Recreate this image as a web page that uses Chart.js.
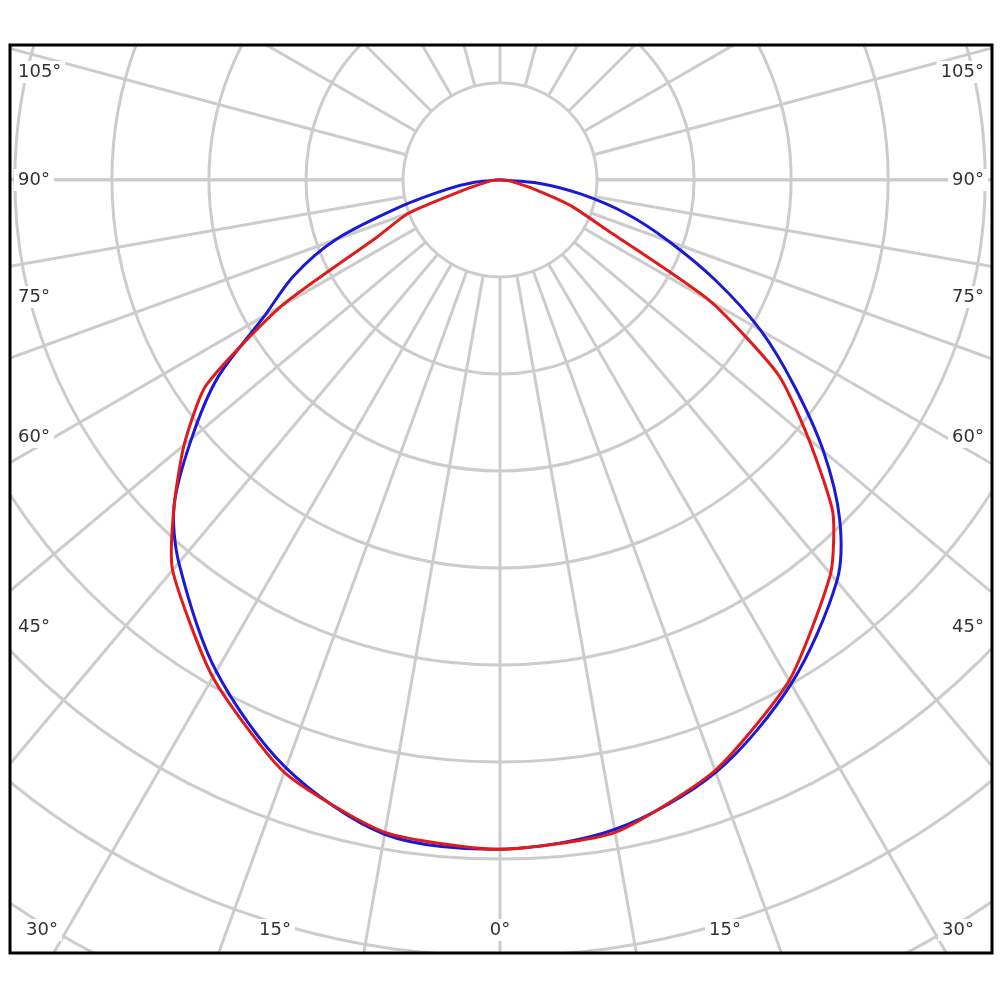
<!DOCTYPE html>
<html>
<head>
<meta charset="utf-8">
<script src="https://cdn.jsdelivr.net/npm/chart.js@4"></script>
<style>
  html, body { margin: 0; padding: 0; background: #fff; }
  #wrap { width: 1000px; height: 1000px; }
</style>
</head>
<body>
<div id="wrap"><canvas id="polar"></canvas></div>
<script>
// angle from nadir (deg), negative = left half
const angles = [-90,-85,-80,-75,-70,-65,-60,-55,-50,-45,-40,-30,-20,-10,0,10,20,30,40,45,50,55,60,65,70,75,80,85,90];
// intensity in ring units
const redValues  = [0,0.08,0.15,0.35,1.0,1.4,2.6,3.7,4.25,4.75,5.25,5.92,6.5,6.83,6.9,6.83,6.48,5.96,5.3,4.85,4.15,3.5,2.5,1.2,0.77,0.35,0.15,0.08,0];
const blueValues = [0,0.25,0.55,1.05,1.8,2.35,2.8,3.55,4.15,4.75,5.15,5.85,6.45,6.85,6.9,6.8,6.5,6.0,5.4,4.95,4.35,3.7,3.1,2.45,1.85,1.35,0.85,0.4,0];
const sideLabels = ['105°','90°','75°','60°','45°'];
const sideLabelY = [72,180,297,437,627];
const bottomLabels = ['30°','15°','0°','15°','30°'];
const bottomLabelX = [42,275,500,725,958];

function toXY(vals) {
    return vals.map((r, i) => {
        const a = angles[i] * Math.PI / 180;
        return { x: r * Math.sin(a), y: -r * Math.cos(a) };
    });
}

// spokes: every 10 deg in the lower half, every 15 deg in the upper half
const spokes = [];
for (let d = -90; d <= 90; d += 10) spokes.push(d);
for (let d = 90; d <= 270; d += 15) spokes.push(d);

const gridPlugin = {
    id: 'polarGrid',
    beforeDatasetsDraw(chart) {
        const { ctx, chartArea, scales } = chart;
        const cx = scales.x.getPixelForValue(0);
        const cy = scales.y.getPixelForValue(0);
        const unit = scales.x.getPixelForValue(1) - cx;
        ctx.save();
        ctx.beginPath();
        ctx.rect(chartArea.left, chartArea.top, chartArea.right - chartArea.left, chartArea.bottom - chartArea.top);
        ctx.clip();
        ctx.strokeStyle = '#cccccc';
        ctx.lineWidth = 3;
        spokes.forEach(d => {
            const a = d * Math.PI / 180;
            ctx.beginPath();
            ctx.moveTo(cx + Math.sin(a) * unit, cy + Math.cos(a) * unit);
            ctx.lineTo(cx + Math.sin(a) * unit * 12, cy + Math.cos(a) * unit * 12);
            ctx.stroke();
        });
        for (let r = 1; r <= 10; r++) {
            ctx.beginPath();
            ctx.arc(cx, cy, r * unit, 0, Math.PI * 2);
            ctx.stroke();
        }
        ctx.font = '18px "DejaVu Sans", sans-serif';
        ctx.textBaseline = 'middle';
        sideLabels.forEach((t, i) => {
            const y = sideLabelY[i];
            ctx.fillStyle = '#fff';
            const w = ctx.measureText(t).width;
            ctx.fillRect(chartArea.left + 4, y - 11, w + 8, 22);
            ctx.fillRect(chartArea.right - w - 12, y - 11, w + 8, 22);
            ctx.fillStyle = '#333';
            ctx.textAlign = 'left';
            ctx.fillText(t, chartArea.left + 8, y);
            ctx.textAlign = 'right';
            ctx.fillText(t, chartArea.right - 8, y);
        });
        ctx.textAlign = 'center';
        bottomLabels.forEach((t, i) => {
            const w = ctx.measureText(t).width;
            ctx.fillStyle = '#fff';
            ctx.fillRect(bottomLabelX[i] - w / 2 - 4, 919, w + 8, 22);
            ctx.fillStyle = '#333';
            ctx.fillText(t, bottomLabelX[i], 930);
        });
        ctx.restore();
    },
    afterDraw(chart) {
        const { ctx, chartArea } = chart;
        ctx.save();
        ctx.strokeStyle = '#000';
        ctx.lineWidth = 3;
        ctx.strokeRect(chartArea.left, chartArea.top, chartArea.right - chartArea.left, chartArea.bottom - chartArea.top);
        ctx.restore();
    }
};

new Chart(document.getElementById('polar'), {
    type: 'scatter',
    data: {
        datasets: [
            { data: toXY(redValues), showLine: true, borderColor: '#e01b1b', borderWidth: 3, pointRadius: 0, tension: 0.2 },
            { data: toXY(blueValues), showLine: true, borderColor: '#1a1ad6', borderWidth: 3, pointRadius: 0, tension: 0.3 }
        ]
    },
    options: {
        responsive: true,
        maintainAspectRatio: false,
        animation: false,
        layout: { padding: { left: 10, right: 8, top: 45, bottom: 47 } },
        scales: {
            x: { display: false, min: -5.05, max: 5.07 },
            y: { display: false, min: -7.97, max: 1.39 }
        },
        plugins: { legend: { display: false }, tooltip: { enabled: false } }
    },
    plugins: [gridPlugin]
});
</script>
</body>
</html>
